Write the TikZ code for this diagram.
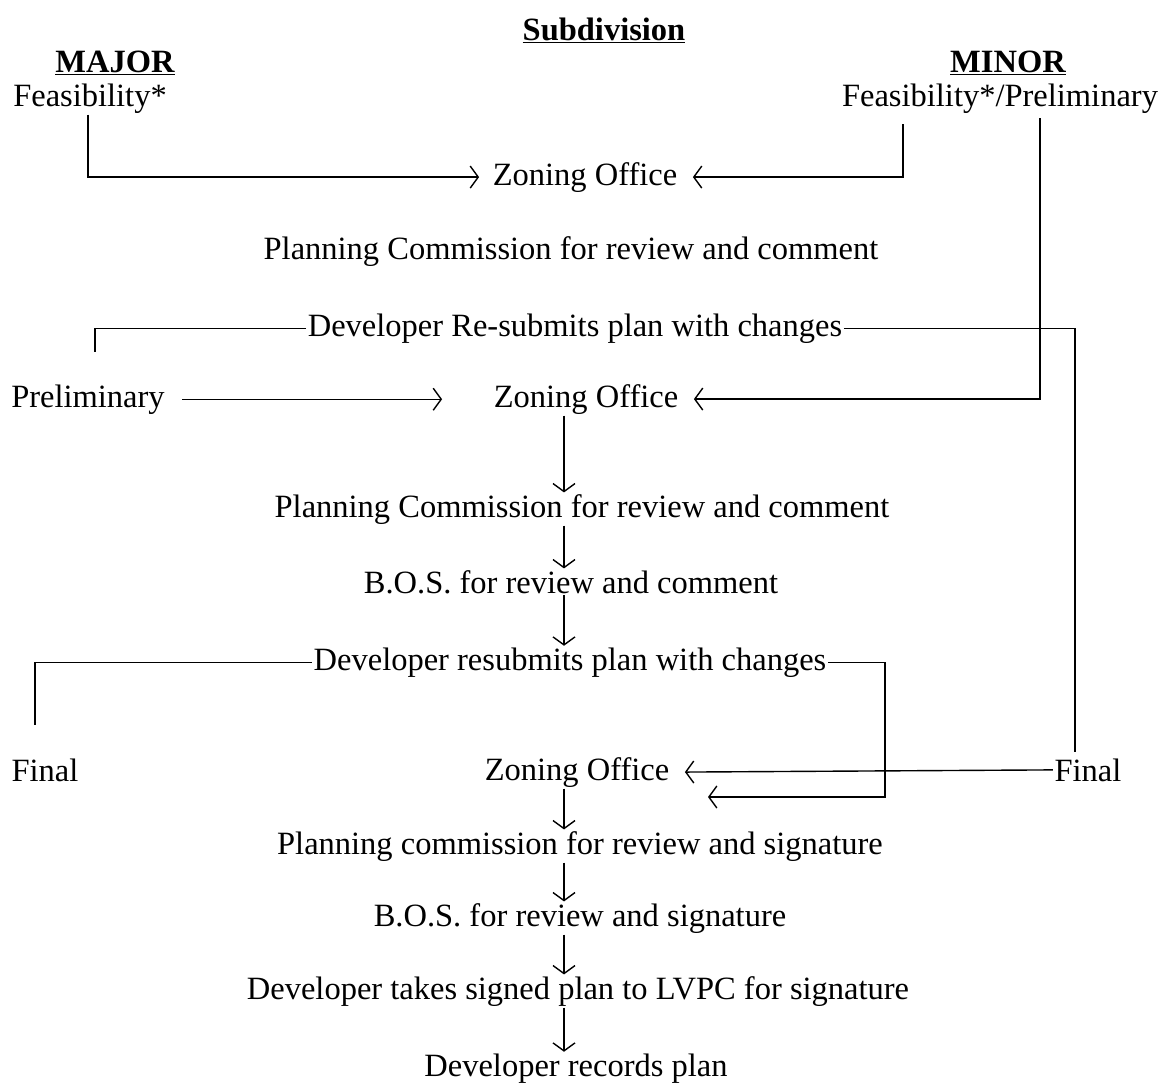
\documentclass[tikz,border=0pt]{standalone}
\usepackage{fontspec}
\setmainfont{Liberation Serif}
\usetikzlibrary{calc,arrows.meta}

\begin{document}
\begin{tikzpicture}[x=1pt,y=-1pt,line width=1.4pt,
		txt/.style={inner sep=1pt,anchor=base,font=\fontsize{32.5}{39}\selectfont},
		hd/.style={txt,font=\fontsize{32.5}{39}\selectfont\bfseries},
		arr/.style={-{Straight Barb[length=8pt,width=22pt]}}
	]
	\useasboundingbox (0,0) rectangle (1160,1085);
	\node[hd] (title) at (604,40) {\underline{Subdivision}};
	\node[hd] (major) at (115,72) {\underline{MAJOR}};
	\node[hd] (minor) at (1008,72) {\underline{MINOR}};
	\node[txt] (majfeas) at (90,106) {Feasibility*};
	\node[txt] (minfeas) at (1000,106) {Feasibility*/Preliminary};
	\node[txt] (zo1) at (585,185) {Zoning Office};
	\node[txt] (pc1) at (571,259) {Planning Commission for review and comment};
	\node[txt] (resub1) at (575,336) {Developer Re-submits plan with changes};
	\node[txt] (prelim) at (88,407) {Preliminary};
	\node[txt] (zo2) at (586,407) {Zoning Office};
	\node[txt] (pc2) at (582,517) {Planning Commission for review and comment};
	\node[txt] (bos1) at (571,593) {B.O.S. for review and comment};
	\node[txt] (resub2) at (570,670) {Developer resubmits plan with changes};
	\node[txt] (finalL) at (45,781) {Final};
	\node[txt] (zo3) at (577,780) {Zoning Office};
	\node[txt] (finalR) at (1088,781) {Final};
	\node[txt] (pcs) at (580,854) {Planning commission for review and signature};
	\node[txt] (boss) at (580,926) {B.O.S. for review and signature};
	\node[txt] (devtakes) at (578,999) {Developer takes signed plan to LVPC for signature};
	\node[txt] (devrec) at (576,1076) {Developer records plan};
	\coordinate (col) at (564,0);
	\coordinate (minA) at (903,124);
	\coordinate (minB) at (1040,118);
	\coordinate (preA) at (95,352);
	\coordinate (finRtop) at (1075,752);
	\coordinate (finLtop) at (35,725);
	\coordinate (rcB) at (885,797);
	\coordinate (lowB) at (708,797);
	\draw[arr] ([xshift=-2pt]majfeas.south) |- ([xshift=-12pt]zo1.west);
	\draw[arr] (minA) |- ([xshift=14pt]zo1.east);
	\draw[arr] (minB) |- ([xshift=14pt]zo2.east);
	\draw[arr,shorten <=16pt,shorten >=50pt] (prelim.east) -- (prelim.east -| zo2.west);
	\draw (resub1.west) -| (preA);
	\draw (resub1.east) -| (finRtop);
	\draw (resub2.west) -| (finLtop);
	\draw[arr] (resub2.east) -| (rcB) -- (lowB);
	\draw[arr] (finalR.west) -- ([xshift=14pt]zo3.east);
	\draw[arr] (zo2.south -| col) -- (pc2.north -| col);
	\draw[arr] (pc2.south -| col) -- (bos1.north -| col);
	\draw[arr] (bos1.south -| col) -- (resub2.north -| col);
	\draw[arr] (zo3.south -| col) -- (pcs.north -| col);
	\draw[arr] (pcs.south -| col) -- (boss.north -| col);
	\draw[arr] (boss.south -| col) -- (devtakes.north -| col);
	\draw[arr] (devtakes.south -| col) -- (devrec.north -| col);
\end{tikzpicture}
\end{document}
